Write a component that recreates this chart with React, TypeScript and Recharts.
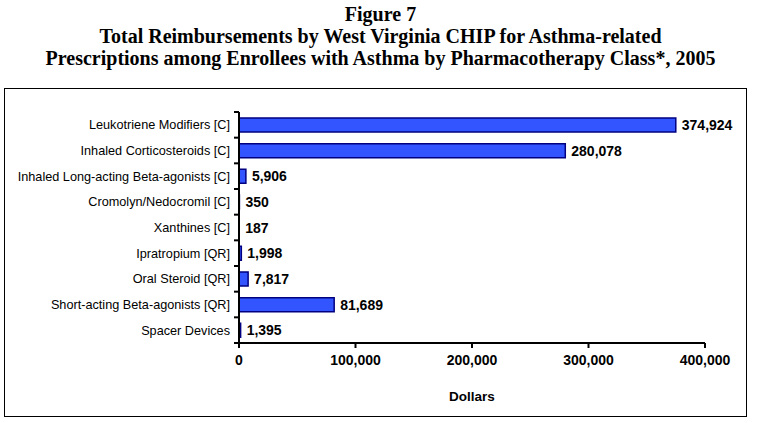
import React from "react";
import { BarChart, Bar, XAxis, YAxis, LabelList } from "recharts";

const categories = [
  "Leukotriene Modifiers [C]",
  "Inhaled Corticosteroids [C]",
  "Inhaled Long-acting Beta-agonists [C]",
  "Cromolyn/Nedocromil [C]",
  "Xanthines [C]",
  "Ipratropium [QR]",
  "Oral Steroid [QR]",
  "Short-acting Beta-agonists [QR]",
  "Spacer Devices",
];
const dollars = [374924, 280078, 5906, 350, 187, 1998, 7817, 81689, 1395];
const xTicks = [0, 100000, 200000, 300000, 400000];

const data = categories.map((name, i) => ({ name, value: dollars[i] }));

const fmt = (v: number) => v.toLocaleString("en-US");
const SANS = "Arial, 'Liberation Sans', sans-serif";

const CHART_W = 741;
const CHART_H = 327;
const MARGIN = { top: 23, right: 41, left: 0, bottom: 0 };
const X_AXIS_H = 73;
const PLOT_H = CHART_H - MARGIN.top - MARGIN.bottom - X_AXIS_H;
const BAND = PLOT_H / categories.length;

// category label plus a small tick at the band boundary, like the original
function CatTick(props: any) {
  const { x, y, payload, index } = props;
  const last = index === categories.length - 1;
  return (
    <g>
      <line x1={x + 4} x2={x + 9} y1={y - BAND / 2} y2={y - BAND / 2} stroke="#000" strokeWidth={2} />
      {last && (
        <line x1={x + 4} x2={x + 9} y1={y + BAND / 2} y2={y + BAND / 2} stroke="#000" strokeWidth={2} />
      )}
      <text x={x} y={y} dy={4.5} textAnchor="end" fontSize={12.7} fill="#000" fontFamily={SANS}>
        {payload.value}
      </text>
    </g>
  );
}

export default function App() {
  return (
    <div style={{ position: "absolute", left: 0, top: 0, width: 761, height: 423, background: "#fff" }}>
      <div
        style={{
          position: "absolute",
          left: 0,
          top: 3,
          width: 761,
          textAlign: "center",
          fontFamily: "'Liberation Serif', 'Times New Roman', serif",
          fontWeight: "bold",
          fontSize: 20,
          lineHeight: "22px",
          color: "#000",
        }}
      >
        <div>Figure 7</div>
        <div>Total Reimbursements by West Virginia CHIP for Asthma-related</div>
        <div>Prescriptions among Enrollees with Asthma by Pharmacotherapy Class*, 2005</div>
      </div>
      <div
        style={{
          position: "absolute",
          left: 4,
          top: 88,
          width: CHART_W,
          height: CHART_H,
          border: "1px solid #000",
        }}
      >
        <BarChart width={CHART_W} height={CHART_H} data={data} layout="vertical" margin={MARGIN}>
          <XAxis
            type="number"
            domain={[0, 400000]}
            ticks={xTicks}
            tickFormatter={fmt}
            height={X_AXIS_H}
            axisLine={{ stroke: "#000", strokeWidth: 2 }}
            tickLine={{ stroke: "#000", strokeWidth: 2 }}
            tickSize={5}
            tick={{ fill: "#000", fontSize: 14, fontWeight: "bold", fontFamily: SANS }}
            tickMargin={7}
            label={{
              value: "Dollars",
              position: "insideBottom",
              offset: 15,
              fill: "#000",
              fontSize: 13.5,
              fontWeight: "bold",
              fontFamily: SANS,
            }}
          />
          <YAxis
            type="category"
            dataKey="name"
            width={234}
            axisLine={{ stroke: "#000", strokeWidth: 2 }}
            tickLine={false}
            tickSize={0}
            tickMargin={9}
            tick={<CatTick />}
            interval={0}
          />
          <Bar dataKey="value" fill="#3355FF" stroke="#000080" strokeWidth={1.5} barSize={14} isAnimationActive={false}>
            <LabelList
              dataKey="value"
              position="right"
              offset={6}
              formatter={(v: any) => fmt(Number(v))}
              fill="#000"
              fontSize={14}
              fontWeight="bold"
              fontFamily={SANS}
            />
          </Bar>
        </BarChart>
      </div>
    </div>
  );
}
